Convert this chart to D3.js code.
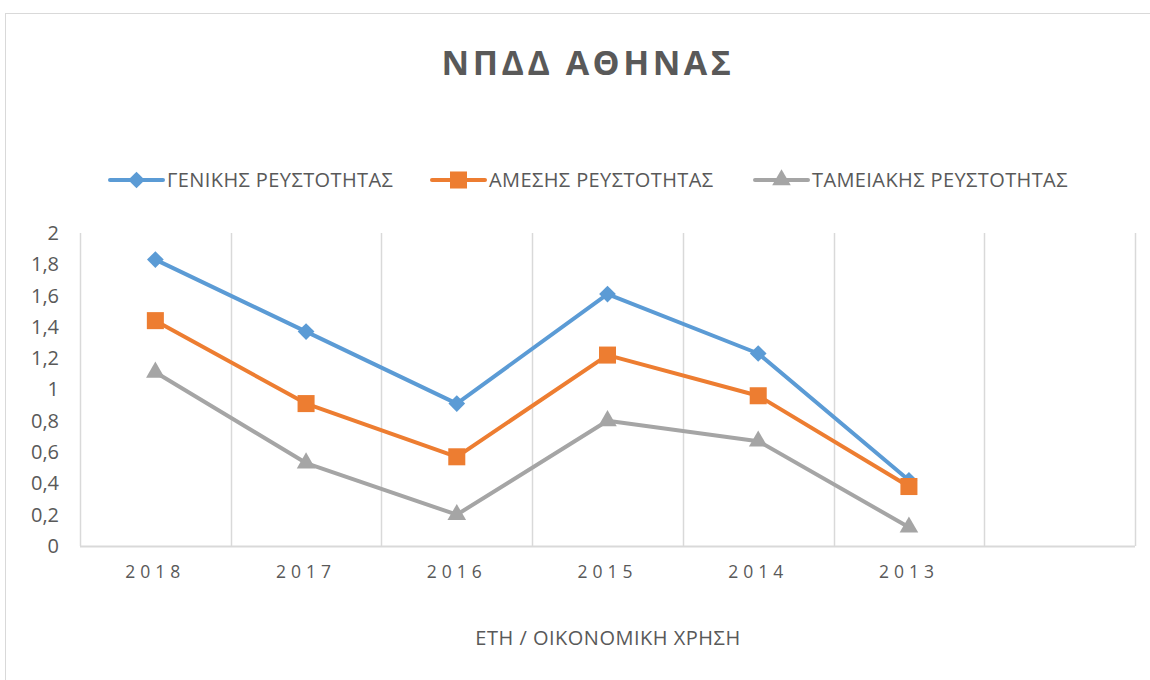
<!DOCTYPE html>
<html>
<head>
<meta charset="utf-8">
<script src="https://cdn.jsdelivr.net/npm/d3@7"></script>
<style>
  body { margin: 0; background: #fff; }
  svg text { font-family: "Open Sans", "Noto Sans", sans-serif; fill: #595959; }
</style>
</head>
<body>
<svg width="1150" height="680"></svg>
<script>
var years = ["2018", "2017", "2016", "2015", "2014", "2013", ""];
var yTicks = [0, 0.2, 0.4, 0.6, 0.8, 1, 1.2, 1.4, 1.6, 1.8, 2];
var seriesNames = ["ΓΕΝΙΚΗΣ ΡΕΥΣΤΟΤΗΤΑΣ", "ΑΜΕΣΗΣ ΡΕΥΣΤΟΤΗΤΑΣ", "ΤΑΜΕΙΑΚΗΣ ΡΕΥΣΤΟΤΗΤΑΣ"];
var generalLiq = [1.83, 1.37, 0.91, 1.61, 1.23, 0.42];
var quickLiq = [1.44, 0.91, 0.57, 1.22, 0.96, 0.38];
var cashLiq = [1.11, 0.53, 0.20, 0.80, 0.67, 0.12];
var colors = ["#5B9BD5", "#ED7D31", "#A5A5A5"];
var shapes = [d3.symbolSquare, d3.symbolSquare, d3.symbolTriangle];
var markerSizes = [140, 290, 150];
var rotations = [45, 0, 0];

var svg = d3.select("svg"),
  plotLeft = 80, plotRight = 1135, plotTop = 233, plotBottom = 546;

// chart border
svg.append("rect")
  .attr("x", 5.5).attr("y", 13.5)
  .attr("width", 1160).attr("height", 700)
  .attr("fill", "none").attr("stroke", "#d9d9d9");

var x = d3.scaleBand().domain(years).range([plotLeft, plotRight]);
var y = d3.scaleLinear().domain([0, 2]).range([plotBottom, plotTop]);

// vertical gridlines at category boundaries
var bounds = years.map(function(d) { return x(d); }).concat([plotRight]);
svg.append("g").selectAll("line")
  .data(bounds)
  .join("line")
  .attr("x1", function(d) { return Math.round(d) + 0.5; })
  .attr("x2", function(d) { return Math.round(d) + 0.5; })
  .attr("y1", plotTop).attr("y2", plotBottom)
  .attr("stroke", "#d9d9d9").attr("stroke-width", 1.5);

svg.append("line")
  .attr("x1", plotLeft).attr("x2", plotRight)
  .attr("y1", plotBottom + 0.5).attr("y2", plotBottom + 0.5)
  .attr("stroke", "#d9d9d9").attr("stroke-width", 2);

// y axis labels
var yAxis = svg.append("g")
  .attr("transform", "translate(" + plotLeft + ",0)")
  .call(d3.axisLeft(y).tickValues(yTicks).tickSize(0).tickPadding(21)
    .tickFormat(function(d) { return String(d).replace(".", ","); }));
yAxis.select(".domain").remove();
yAxis.selectAll("text").style("font-size", "20px").attr("fill", "#595959");

// x axis labels
var xAxis = svg.append("g")
  .attr("transform", "translate(0," + plotBottom + ")")
  .call(d3.axisBottom(x).tickSize(0).tickPadding(20));
xAxis.select(".domain").remove();
xAxis.selectAll("text")
  .style("font-size", "17.5px").style("letter-spacing", "5px")
  .attr("fill", "#595959");

// title
svg.append("text")
  .attr("x", 588).attr("y", 75)
  .attr("text-anchor", "middle")
  .style("font-size", "34px").style("font-weight", "bold")
  .style("letter-spacing", "3.5px")
  .text("ΝΠΔΔ ΑΘΗΝΑΣ");

// axis title
svg.append("text")
  .attr("x", 608).attr("y", 645)
  .attr("text-anchor", "middle")
  .style("font-size", "20px").style("letter-spacing", "0.5px")
  .text("ΕΤΗ / ΟΙΚΟΝΟΜΙΚΗ ΧΡΗΣΗ");

var allSeries = [generalLiq, quickLiq, cashLiq];
var line = d3.line()
  .x(function(d, i) { return x(years[i]) + x.bandwidth() / 2; })
  .y(function(d) { return y(d); });

allSeries.forEach(function(vals, k) {
  svg.append("path")
    .datum(vals)
    .attr("d", line)
    .attr("fill", "none")
    .attr("stroke", colors[k])
    .attr("stroke-width", 4)
    .attr("stroke-linejoin", "round");
  svg.append("g").selectAll("path")
    .data(vals)
    .join("path")
    .attr("transform", function(d, i) {
      return "translate(" + (x(years[i]) + x.bandwidth() / 2) + "," + y(d) + ") rotate(" + rotations[k] + ")";
    })
    .attr("d", d3.symbol().type(shapes[k]).size(markerSizes[k]))
    .attr("fill", colors[k]);
});

// legend
var legendX = [110, 432, 755];
var legend = svg.append("g").selectAll("g")
  .data(seriesNames)
  .join("g")
  .attr("transform", function(d, i) { return "translate(" + legendX[i] + ",180)"; });
legend.append("line")
  .attr("x1", 0).attr("x2", 53)
  .attr("stroke", function(d, i) { return colors[i]; })
  .attr("stroke-width", 4).attr("stroke-linecap", "round");
legend.append("path")
  .attr("transform", function(d, i) { return "translate(26.5,0) rotate(" + rotations[i] + ")"; })
  .attr("d", function(d, i) { return d3.symbol().type(shapes[i]).size(markerSizes[i])(); })
  .attr("fill", function(d, i) { return colors[i]; });
legend.append("text")
  .attr("x", 57).attr("dy", "0.35em")
  .style("font-size", "20px").style("letter-spacing", "0.4px")
  .text(function(d) { return d; });
</script>
</body>
</html>
